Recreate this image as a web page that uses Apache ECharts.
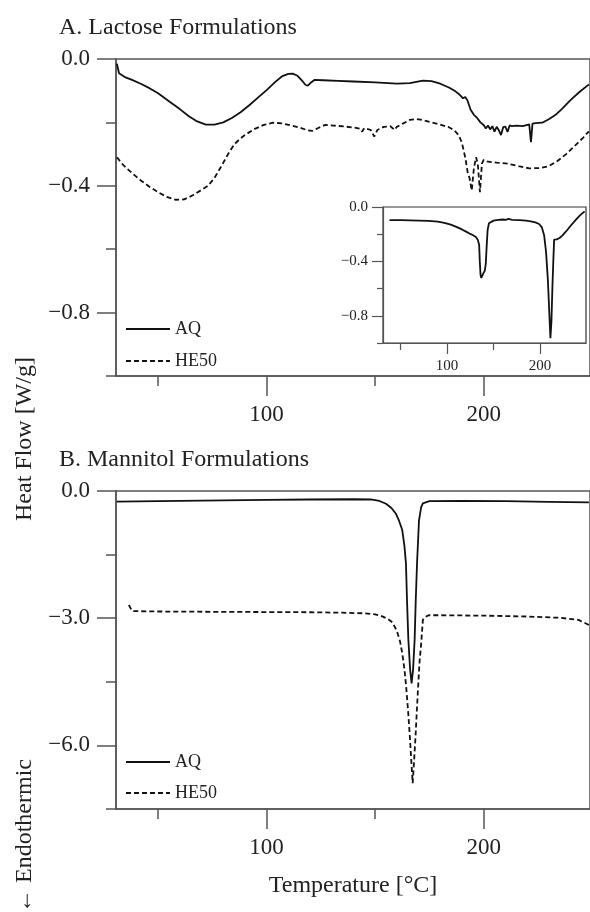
<!DOCTYPE html>
<html>
<head>
<meta charset="utf-8">
<script src="https://cdn.jsdelivr.net/npm/echarts@6/dist/echarts.min.js"></script>
<style>html,body{margin:0;padding:0;background:#fff}#c{width:590px;height:912px}</style>
</head>
<body>
<div id="c"></div>
<script>
// ---------- DATA ----------
const xMajorTicks = [100, 200];
const xMinorTicks = [50, 150];
const yLactMajor = [0, -0.4, -0.8];
const yLactMinor = [-0.2, -0.6, -1.0];
const yMannMajor = [0, -3, -6];
const yMannMinor = [-1.5, -4.5, -7.5];

const lactoseAQ = [[31,-0.015],[32,-0.045],[35,-0.058],[38,-0.066],[42,-0.078],[46,-0.092],[50,-0.108],[55,-0.133],[60,-0.158],[64,-0.18],[68,-0.197],[72,-0.207],[76,-0.207],[80,-0.2],[84,-0.186],[88,-0.168],[92,-0.146],[96,-0.122],[100,-0.098],[104,-0.072],[107,-0.055],[110,-0.047],[112,-0.046],[114,-0.052],[116,-0.066],[118,-0.082],[119,-0.084],[120.5,-0.074],[122,-0.066],[126,-0.067],[133,-0.069],[140,-0.071],[150,-0.074],[160,-0.078],[166,-0.076],[172,-0.068],[176,-0.07],[180,-0.078],[184,-0.09],[187,-0.102],[189,-0.113],[190.5,-0.124],[191.5,-0.12],[192.5,-0.13],[194,-0.16],[195.5,-0.176],[197,-0.186],[198.5,-0.2],[200,-0.208],[201,-0.219],[202,-0.21],[203,-0.222],[204,-0.212],[205,-0.229],[206,-0.214],[207,-0.225],[208,-0.24],[209,-0.215],[210,-0.213],[211,-0.23],[212,-0.209],[213,-0.212],[215,-0.21],[218,-0.212],[221,-0.206],[221.8,-0.262],[222.5,-0.204],[224,-0.202],[227,-0.201],[230,-0.19],[233,-0.177],[236,-0.158],[240,-0.13],[244,-0.105],[248.5,-0.08]];

const lactoseHE50 = [[31,-0.31],[34,-0.335],[38,-0.36],[42,-0.383],[46,-0.403],[50,-0.42],[54,-0.435],[58,-0.444],[62,-0.443],[66,-0.43],[70,-0.413],[73,-0.4],[76,-0.375],[79,-0.34],[82,-0.303],[85,-0.27],[88,-0.25],[90,-0.24],[94,-0.222],[98.7,-0.208],[103,-0.201],[107,-0.203],[111,-0.209],[115,-0.216],[119,-0.225],[121,-0.227],[124,-0.217],[127,-0.208],[131,-0.21],[136,-0.213],[140,-0.216],[143,-0.22],[144,-0.229],[145,-0.218],[148,-0.224],[149.6,-0.245],[151,-0.224],[154,-0.214],[157,-0.212],[159,-0.224],[160,-0.214],[163,-0.203],[166,-0.192],[169,-0.189],[172,-0.193],[176,-0.2],[180,-0.207],[184,-0.215],[186.5,-0.225],[188.5,-0.24],[190,-0.265],[191.5,-0.31],[192.7,-0.36],[193.5,-0.375],[194.5,-0.415],[195.5,-0.345],[196.5,-0.31],[197.3,-0.33],[198.3,-0.42],[199.2,-0.33],[200,-0.318],[202,-0.324],[206,-0.327],[211,-0.33],[216,-0.338],[221,-0.345],[226,-0.344],[230,-0.338],[234,-0.322],[238,-0.3],[242,-0.274],[246,-0.247],[248.5,-0.228]];

const lactoseInsetAQ = [[38,-0.096],[50,-0.097],[60,-0.098],[70,-0.1],[80,-0.102],[90,-0.108],[97,-0.116],[104,-0.13],[110,-0.146],[116,-0.165],[121,-0.183],[125,-0.198],[128,-0.208],[131,-0.22],[133,-0.24],[134.5,-0.28],[135.2,-0.4],[136,-0.5],[136.8,-0.522],[137.6,-0.51],[138.8,-0.49],[140.5,-0.47],[141.6,-0.42],[142.5,-0.3],[143.6,-0.17],[145,-0.12],[147,-0.108],[150,-0.1],[155,-0.095],[160,-0.092],[163,-0.095],[166,-0.088],[170,-0.094],[178,-0.097],[185,-0.1],[190,-0.105],[195,-0.113],[199,-0.125],[202,-0.15],[204.5,-0.21],[206.5,-0.33],[208.5,-0.54],[210,-0.78],[211.2,-0.965],[212.3,-0.84],[213.3,-0.6],[214.3,-0.4],[215.2,-0.24],[216.5,-0.228],[218,-0.238],[221,-0.228],[224,-0.21],[228,-0.18],[233,-0.138],[238,-0.098],[243,-0.062],[248,-0.032]];

const mannitolAQ = [[31,-0.25],[50,-0.24],[80,-0.222],[100,-0.21],[120,-0.2],[140,-0.195],[148,-0.2],[152,-0.235],[155,-0.3],[157.5,-0.4],[159.5,-0.53],[161,-0.7],[162.5,-0.92],[163.5,-1.3],[164.2,-1.71],[164.7,-2.6],[165.3,-3.5],[166.1,-4.2],[166.8,-4.54],[167.5,-4.2],[168.2,-3.5],[168.7,-2.6],[169.3,-1.71],[170.2,-0.7],[171.2,-0.38],[172,-0.29],[175,-0.24],[190,-0.235],[210,-0.24],[230,-0.255],[248.5,-0.268]];

const mannitolHE50 = [[36.5,-2.69],[38,-2.83],[45,-2.84],[60,-2.845],[80,-2.85],[100,-2.855],[120,-2.86],[135,-2.87],[145,-2.885],[150,-2.91],[153,-2.95],[156,-3.02],[158,-3.1],[160,-3.3],[161.5,-3.55],[162.5,-3.83],[163.5,-4.2],[164.3,-4.62],[165.2,-5.2],[166,-5.8],[166.7,-6.4],[167.3,-6.89],[167.9,-6.4],[168.6,-5.8],[169.2,-5.2],[169.8,-4.62],[170.5,-4.0],[171.1,-3.67],[172,-3.04],[172.9,-2.98],[174.6,-2.93],[180,-2.93],[200,-2.94],[220,-2.96],[235,-2.99],[243.7,-3.04],[248.5,-3.16]];

// ---------- STYLE ----------
const FONT = '"Liberation Serif", "Times New Roman", serif';
const AX = '#555';
const TXT = '#222';
const LINE = '#111';
const fmtY = v => (v < 0 ? '\u2212' : '') + Math.abs(v).toFixed(1);

const X_MIN = 30.6, X_MAX = 249.0;

function xAx(grid, ticks, len, labels, opts) {
  opts = opts || {};
  return Object.assign({
    type: 'value', gridIndex: grid, position: 'bottom', min: opts.min ?? X_MIN, max: opts.max ?? X_MAX,
    axisLine: { show: !!opts.line, onZero: false, lineStyle: { color: AX, width: opts.w || 1.5 } },
    axisTick: { show: true, customValues: ticks, length: len, inside: false, lineStyle: { color: AX, width: opts.w || 1.5 } },
    axisLabel: labels ? { show: true, customValues: labels, margin: opts.margin || 27, color: TXT, fontFamily: FONT, fontSize: opts.fs || 23 } : { show: false },
    splitLine: { show: false }
  }, opts.extra || {});
}
function yAx(grid, ticks, len, labels, opts) {
  opts = opts || {};
  return {
    type: 'value', gridIndex: grid, position: 'left', min: opts.min, max: 0,
    axisLine: { show: !!opts.line, onZero: false, lineStyle: { color: AX, width: opts.w || 1.5 } },
    axisTick: { show: true, customValues: ticks, length: len, lineStyle: { color: AX, width: opts.w || 1.5 } },
    axisLabel: labels ? { show: true, customValues: labels, formatter: fmtY, margin: opts.margin || 26, color: TXT, fontFamily: FONT, fontSize: opts.fs || 23 } : { show: false },
    splitLine: { show: false }
  };
}
function ser(name, data, xi, yi, dashed) {
  return { name, type: 'line', data, xAxisIndex: xi, yAxisIndex: yi, symbol: 'none', showSymbol: false,
    lineStyle: { color: LINE, width: 1.8, type: dashed ? [5, 3] : 'solid' }, itemStyle: { color: LINE },
    animation: false, silent: true };
}
const legendBase = { orient: 'vertical', left: 125, itemWidth: 44, itemHeight: 14, padding: 0,
  data: ['AQ', 'HE50'], selectedMode: false, itemStyle: { opacity: 0, borderWidth: 0 },
  lineStyle: { width: 2 },
  textStyle: { fontFamily: FONT, fontSize: 18, color: TXT } };

const option = {
  backgroundColor: '#fff',
  animation: false,
  title: [
    { text: 'A. Lactose Formulations', left: 59, top: 16, padding: 0, textStyle: { fontFamily: FONT, fontSize: 24, fontWeight: 'normal', color: TXT } },
    { text: 'B. Mannitol Formulations', left: 59, top: 448, padding: 0, textStyle: { fontFamily: FONT, fontSize: 24, fontWeight: 'normal', color: TXT } }
  ],
  grid: [
    { left: 116, top: 59, width: 476, height: 317, show: true, borderColor: AX, borderWidth: 1.5, backgroundColor: 'transparent' },
    { left: 383, top: 207, width: 203, height: 136, show: true, borderColor: '#333', borderWidth: 1.2, backgroundColor: '#fff' },
    { left: 116, top: 491, width: 476, height: 318, show: true, borderColor: AX, borderWidth: 1.5, backgroundColor: 'transparent' }
  ],
  xAxis: [
    xAx(0, xMajorTicks, 20, xMajorTicks, { line: true }),
    xAx(0, xMinorTicks, 10, null, {}),
    xAx(1, xMajorTicks, 11, xMajorTicks, { line: true, min: 31, max: 249.5, fs: 15, margin: 16, w: 1.2 }),
    xAx(1, xMinorTicks, 7, null, { min: 31, max: 249.5, w: 1.2 }),
    xAx(2, xMajorTicks, 20, xMajorTicks, { line: true, extra: { name: 'Temperature [\u00B0C]', nameLocation: 'middle', nameGap: 65, nameTextStyle: { fontFamily: FONT, fontSize: 24, color: TXT } } }),
    xAx(2, xMinorTicks, 10, null, {})
  ],
  yAxis: [
    yAx(0, yLactMajor, 19, yLactMajor, { line: true, min: -1.0 }),
    yAx(0, yLactMinor, 10, null, { min: -1.0 }),
    yAx(1, yLactMajor, 11, yLactMajor, { line: true, min: -1.0, fs: 15, margin: 15, w: 1.2 }),
    yAx(1, yLactMinor, 6, null, { min: -1.0, w: 1.2 }),
    yAx(2, yMannMajor, 19, yMannMajor, { line: true, min: -7.5 }),
    yAx(2, yMannMinor, 10, null, { min: -7.5 })
  ],
  legend: [
    Object.assign({}, legendBase, { top: 320, itemGap: 14 }),
    Object.assign({}, legendBase, { top: 753, itemGap: 13 })
  ],
  graphic: [
    { type: 'text', x: 25, y: 439, rotation: Math.PI / 2, style: { text: 'Heat Flow [W/g]', fill: TXT, font: '24px ' + FONT, align: 'center', verticalAlign: 'middle' } },
    { type: 'text', x: 25, y: 836, rotation: Math.PI / 2, style: { text: '\u2190 Endothermic', fill: TXT, font: '24px ' + FONT, align: 'center', verticalAlign: 'middle' } }
  ],
  series: [
    ser('AQ', lactoseAQ, 0, 0, false),
    ser('HE50', lactoseHE50, 0, 0, true),
    ser('AQ inset', lactoseInsetAQ, 2, 2, false),
    ser('AQ', mannitolAQ, 4, 4, false),
    ser('HE50', mannitolHE50, 4, 4, true)
  ]
};
const chart = echarts.init(document.getElementById('c'), null, { renderer: 'canvas' });
chart.setOption(option);
</script>
</body>
</html>
